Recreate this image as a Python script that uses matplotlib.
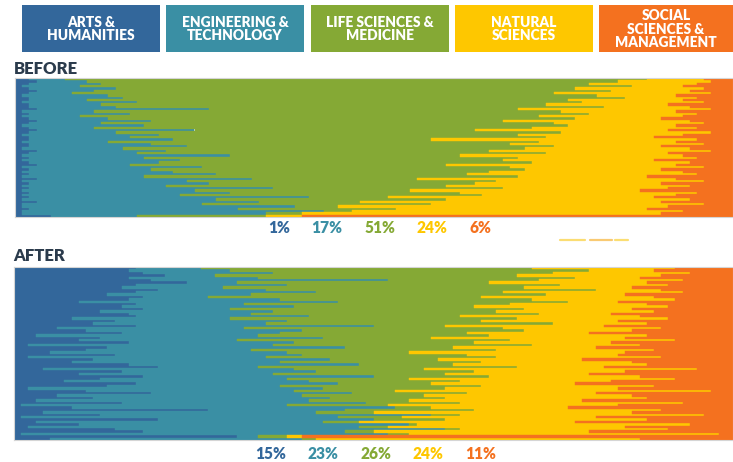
import matplotlib
matplotlib.use("Agg")
import matplotlib.pyplot as plt
from matplotlib.patches import Rectangle
import numpy as np

plt.rcParams['font.family'] = ['Lato', 'DejaVu Sans']

categories = ["ARTS &\nHUMANITIES", "ENGINEERING &\nTECHNOLOGY", "LIFE SCIENCES &\nMEDICINE",
              "NATURAL\nSCIENCES", "SOCIAL\nSCIENCES &\nMANAGEMENT"]
colors = ["#33679b", "#3a8fa4", "#85a935", "#fec700", "#f4711f"]

before_labels = ["1%", "17%", "51%", "24%", "6%"]
after_labels = ["15%", "23%", "26%", "24%", "11%"]

# BEFORE: cumulative end (% of row) of each category, rows from top to bottom
before_arts_end = [2, 3, 2, 1, 2, 3, 2, 1, 2, 2, 1, 2, 2, 3, 1, 2, 1, 2, 3, 2,
                   1, 2, 3, 2, 1, 2, 2, 1, 2, 2, 1, 3, 2, 1, 2, 1, 2, 3, 1, 2,
                   1, 2, 1, 3, 1, 2, 1, 2, 1, 2, 1, 2, 1, 3, 1, 1, 2, 1, 1, 5]
before_eng_end = [7, 10, 12, 9, 14, 11, 8, 13, 15, 10, 17, 12, 14, 27, 11, 16, 9, 13, 19, 12,
                  18, 11, 25, 14, 20, 16, 22, 13, 19, 24, 15, 21, 17, 30, 18, 23, 20, 16, 26, 19,
                  22, 28, 18, 33, 24, 27, 21, 36, 25, 30, 23, 41, 28, 34, 26, 39, 31, 43, 35, 17]
before_life_end = [88, 84, 80, 86, 78, 83, 75, 81, 85, 77, 79, 74, 82, 70, 76, 80, 73, 78, 68, 75,
                   77, 72, 64, 76, 70, 74, 58, 73, 69, 75, 71, 66, 74, 62, 70, 68, 72, 60, 69, 71,
                   66, 63, 70, 56, 67, 64, 60, 68, 55, 62, 65, 52, 60, 48, 58, 45, 53, 47, 40, 35]
before_nat_end = [96, 97, 95, 93, 96, 94, 97, 92, 95, 93, 96, 91, 94, 97, 92, 95, 93, 90, 94, 96,
                  92, 95, 91, 97, 93, 89, 95, 92, 96, 90, 94, 97, 91, 93, 95, 89, 94, 92, 96, 90,
                  93, 95, 88, 92, 96, 90, 94, 91, 87, 95, 92, 89, 94, 90, 96, 91, 88, 93, 90, 40]

# AFTER: cumulative end (% of row) of each category, rows from top to bottom
after_arts_end = [17, 16, 18, 21, 16, 19, 24, 17, 15, 20, 17, 13, 18, 16, 9, 17, 15, 18,
                  12, 16, 17, 8, 14, 11, 17, 6, 10, 15, 3, 12, 9, 16, 2, 13, 10, 5,
                  14, 2, 11, 8, 16, 20, 4, 15, 9, 18, 12, 7, 17, 13, 2, 10, 19, 6,
                  11, 3, 15, 1, 8, 27, 4, 12, 1, 20, 3, 9, 2, 14, 18, 1, 31, 5]
after_eng_end = [26, 30, 36, 28, 34, 52, 31, 38, 29, 35, 42, 33, 27, 37, 45, 32, 39, 30,
                 36, 33, 41, 30, 38, 35, 50, 32, 40, 37, 34, 43, 31, 39, 36, 46, 33, 38,
                 40, 35, 44, 37, 48, 34, 39, 42, 36, 50, 38, 41, 45, 37, 43, 39, 47, 40,
                 44, 41, 49, 38, 53, 46, 42, 58, 45, 50, 43, 55, 48, 60, 46, 52, 34, 40]
after_life_end = [72, 80, 75, 70, 78, 73, 66, 76, 71, 81, 68, 74, 65, 72, 77, 69, 64, 71,
                  67, 73, 62, 70, 65, 75, 60, 68, 71, 63, 66, 58, 69, 64, 72, 61, 67, 55,
                  63, 67, 59, 65, 61, 70, 57, 64, 60, 66, 55, 62, 58, 65, 60, 53, 63, 57,
                  60, 55, 62, 52, 58, 64, 50, 62, 54, 60, 48, 56, 52, 62, 50, 55, 38, 42]
after_nat_end = [92, 89, 94, 90, 87, 93, 88, 91, 86, 90, 93, 85, 89, 92, 84, 88, 91, 86,
                 89, 83, 87, 91, 84, 88, 82, 90, 86, 80, 88, 85, 92, 83, 87, 81, 89, 85,
                 84, 90, 79, 86, 88, 82, 95, 85, 80, 87, 92, 83, 78, 89, 84, 97, 81, 86,
                 88, 79, 93, 84, 77, 90, 86, 96, 81, 88, 78, 94, 85, 91, 80, 98, 40, 87]

W, H = 733, 462
fig = plt.figure(figsize=(W / 100, H / 100), dpi=100)
fig.patch.set_facecolor("white")


def fx(x):
    return x / W


def fy(y):
    return 1 - y / H


# Legend boxes
box_x = [(22, 160), (166, 304), (311, 449), (455, 593), (599, 733)]
for (x0, x1), c, lab in zip(box_x, colors, categories):
    fig.add_artist(Rectangle((fx(x0), fy(52)), fx(x1 - x0), (52 - 5) / H,
                             transform=fig.transFigure, facecolor=c, edgecolor="none"))
    fig.text(fx((x0 + x1) / 2), fy(29), lab, color="white", fontsize=9.9, fontweight="heavy",
             ha="center", va="center", linespacing=1.04)


def draw_panel(rect, ends):
    ax = fig.add_axes(rect)
    ends = np.array(ends, dtype=float)
    n = ends.shape[1]
    full = np.vstack([ends, np.full(n, 100.0)])
    starts = np.vstack([np.zeros(n), full[:-1]])
    widths = full - starts
    y = np.arange(n)
    for k in range(5):
        ax.barh(y, widths[k], left=starts[k], height=1.0, color=colors[k],
                edgecolor=colors[k], linewidth=0.3)
    ax.set_xlim(0, 100)
    ax.set_ylim(n - 0.5, -0.5)
    ax.set_xticks([])
    ax.set_yticks([])
    for s in ax.spines.values():
        s.set_color("#d5d5d5")
        s.set_linewidth(0.8)
    return ax


draw_panel([fx(15), fy(217), fx(718), 139 / H],
           [before_arts_end, before_eng_end, before_life_end, before_nat_end])
draw_panel([fx(14), fy(440), fx(719), 173 / H],
           [after_arts_end, after_eng_end, after_life_end, after_nat_end])

fig.text(fx(14), fy(69), "BEFORE", color="#2b3b4c", fontsize=12, fontweight="heavy",
         ha="left", va="center")
fig.text(fx(13), fy(256), "AFTER", color="#2b3b4c", fontsize=12, fontweight="heavy",
         ha="left", va="center")

before_x = [279, 327, 380, 432, 480]
after_x = [271, 323, 376, 428, 481]
for x, lab, c in zip(before_x, before_labels, colors):
    fig.text(fx(x), fy(228), lab, color=c, fontsize=11.2, fontweight="heavy",
             ha="center", va="center")
for x, lab, c in zip(after_x, after_labels, colors):
    fig.text(fx(x), fy(454), lab, color=c, fontsize=11.2, fontweight="heavy",
             ha="center", va="center")

# faint streak under the BEFORE panel
for (x0, x1), c in zip([(560, 585), (590, 612), (615, 628)], ["#f9c200", "#f5a000", "#f8c400"]):
    fig.add_artist(plt.Line2D([fx(x0), fx(x1)], [fy(240), fy(240)], transform=fig.transFigure,
                              color=c, linewidth=1.6, alpha=0.55, solid_capstyle="round"))

fig.savefig("out.png", dpi=100, facecolor="white")
